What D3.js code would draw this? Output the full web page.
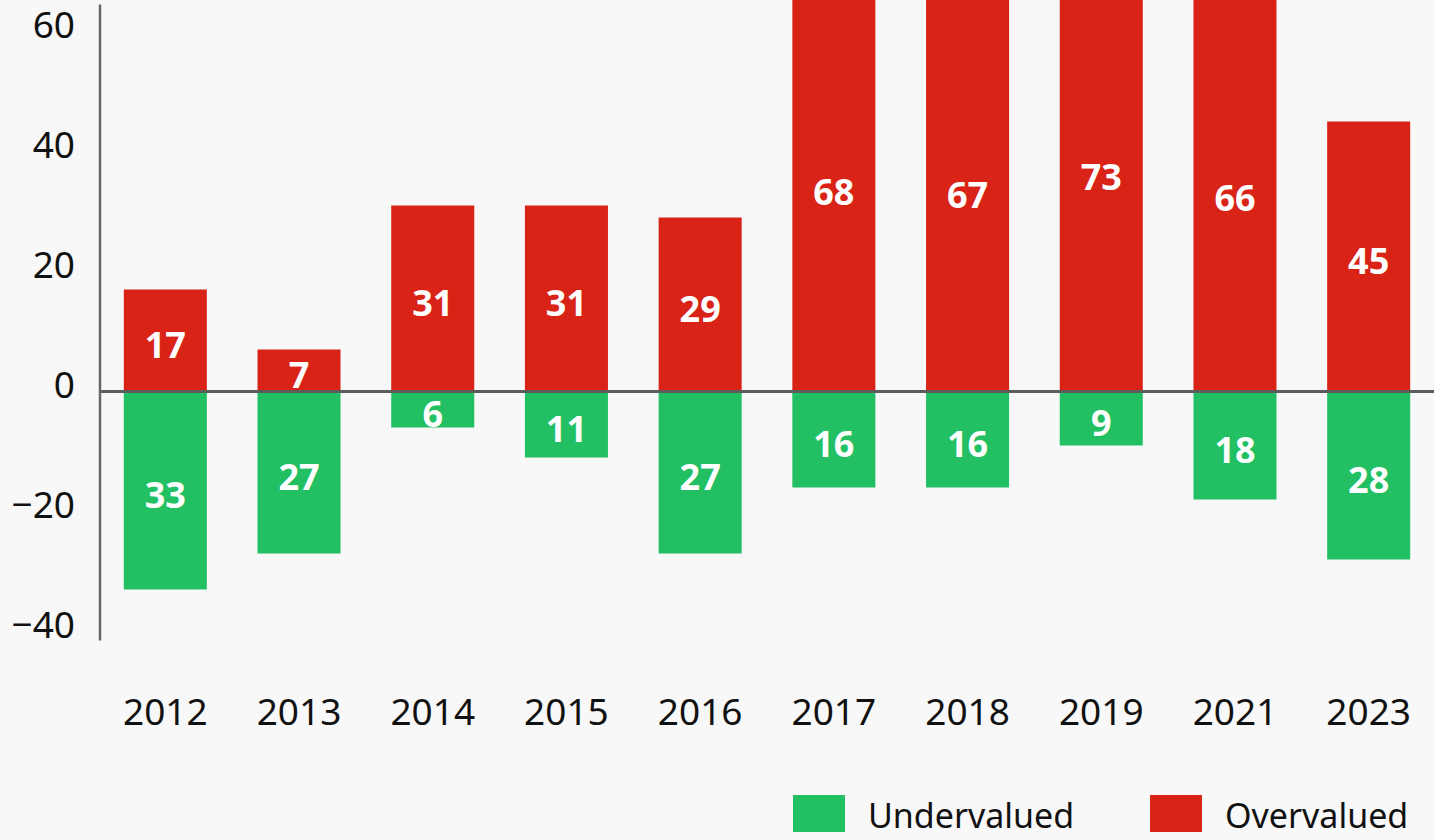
<!DOCTYPE html>
<html>
<head>
<meta charset="utf-8">
<script src="https://cdn.jsdelivr.net/npm/d3@7"></script>
<style>
  html, body { margin: 0; padding: 0; background: #f8f8f8; }
  svg { display: block; font-family: "Noto Sans", sans-serif; }
</style>
</head>
<body>
<div id="chart"></div>
<script>
const years = ["2012", "2013", "2014", "2015", "2016", "2017", "2018", "2019", "2021", "2023"];
const overvalued = [17, 7, 31, 31, 29, 68, 67, 73, 66, 45];
const undervalued = [33, 27, 6, 11, 27, 16, 16, 9, 18, 28];
const yTicks = [-40, -20, 0, 20, 40, 60];
const legendItems = [
  {name: "Undervalued", color: "#22c063"},
  {name: "Overvalued", color: "#d92317"}
];

const width = 1434, height = 840;
const red = "#d92317", green = "#22c063";

let svg = d3.select("#chart").append("svg")
    .attr("width", width)
    .attr("height", height);

svg.append("rect")
    .attr("width", width)
    .attr("height", height)
    .attr("fill", "#f8f8f8");

let x = d3.scaleBand()
    .domain(years)
    .range([100, 1434])
    .paddingInner(0.379)
    .paddingOuter(0.178);

let y = d3.scaleLinear()
    .domain([-40, 65])
    .range([631.5, 1.5]);

// overvalued bars (positive)
svg.append("g")
    .selectAll("rect")
    .data(years)
    .join("rect")
    .attr("x", d => x(d))
    .attr("width", x.bandwidth())
    .attr("y", (d, i) => y(overvalued[i]))
    .attr("height", (d, i) => y(0) - y(overvalued[i]))
    .attr("fill", red);

// undervalued bars (negative)
svg.append("g")
    .selectAll("rect")
    .data(years)
    .join("rect")
    .attr("x", d => x(d))
    .attr("width", x.bandwidth())
    .attr("y", y(0))
    .attr("height", (d, i) => y(-undervalued[i]) - y(0))
    .attr("fill", green);

// value labels
svg.append("g")
    .selectAll("text")
    .data(years)
    .join("text")
    .attr("x", d => x(d) + x.bandwidth() / 2)
    .attr("y", (d, i) => y(overvalued[i] / 2))
    .attr("dy", "0.48em")
    .attr("text-anchor", "middle")
    .attr("font-size", 36)
    .attr("font-weight", "bold")
    .attr("fill", "white")
    .text((d, i) => overvalued[i]);

svg.append("g")
    .selectAll("text")
    .data(years)
    .join("text")
    .attr("x", d => x(d) + x.bandwidth() / 2)
    .attr("y", (d, i) => y(-undervalued[i] / 2))
    .attr("dy", "0.48em")
    .attr("text-anchor", "middle")
    .attr("font-size", 36)
    .attr("font-weight", "bold")
    .attr("fill", "white")
    .text((d, i) => undervalued[i]);

// zero line
svg.append("line")
    .attr("x1", 100)
    .attr("x2", width)
    .attr("y1", y(0))
    .attr("y2", y(0))
    .attr("stroke", "#5c5c5c")
    .attr("stroke-width", 3);

// y axis
let yAxis = d3.axisLeft(y).tickValues(yTicks).tickSize(0).tickPadding(25);
svg.append("g")
    .attr("transform", "translate(100,0)")
    .call(yAxis)
    .call(g => g.select(".domain").remove())
    .call(g => g.selectAll("text")
        .attr("font-family", "Noto Sans, sans-serif")
        .attr("font-size", 37)
        .attr("fill", "#111")
        .attr("dy", "0.16em"));

svg.append("line")
    .attr("x1", 100)
    .attr("x2", 100)
    .attr("y1", y(64.5))
    .attr("y2", y(-41.5))
    .attr("stroke", "#666")
    .attr("stroke-width", 2.5);

// x labels
let xAxis = d3.axisBottom(x).tickSize(0).tickPadding(0);
svg.append("g")
    .attr("transform", "translate(0,725)")
    .call(xAxis)
    .call(g => g.select(".domain").remove())
    .call(g => g.selectAll("text")
        .attr("font-family", "Noto Sans, sans-serif")
        .attr("font-size", 37)
        .attr("fill", "#111")
        .attr("dy", 0)
        .attr("y", 0));

// legend
let legendX = [793, 1150];
let legend = svg.append("g")
    .selectAll("g")
    .data(legendItems)
    .join("g")
    .attr("transform", (d, i) => `translate(${legendX[i]},795)`);

legend.append("rect")
    .attr("width", 52)
    .attr("height", 37)
    .attr("fill", d => d.color);

legend.append("text")
    .attr("x", 75)
    .attr("y", 33)
    .attr("font-size", 34)
    .attr("fill", "#111")
    .text(d => d.name);
</script>
</body>
</html>
